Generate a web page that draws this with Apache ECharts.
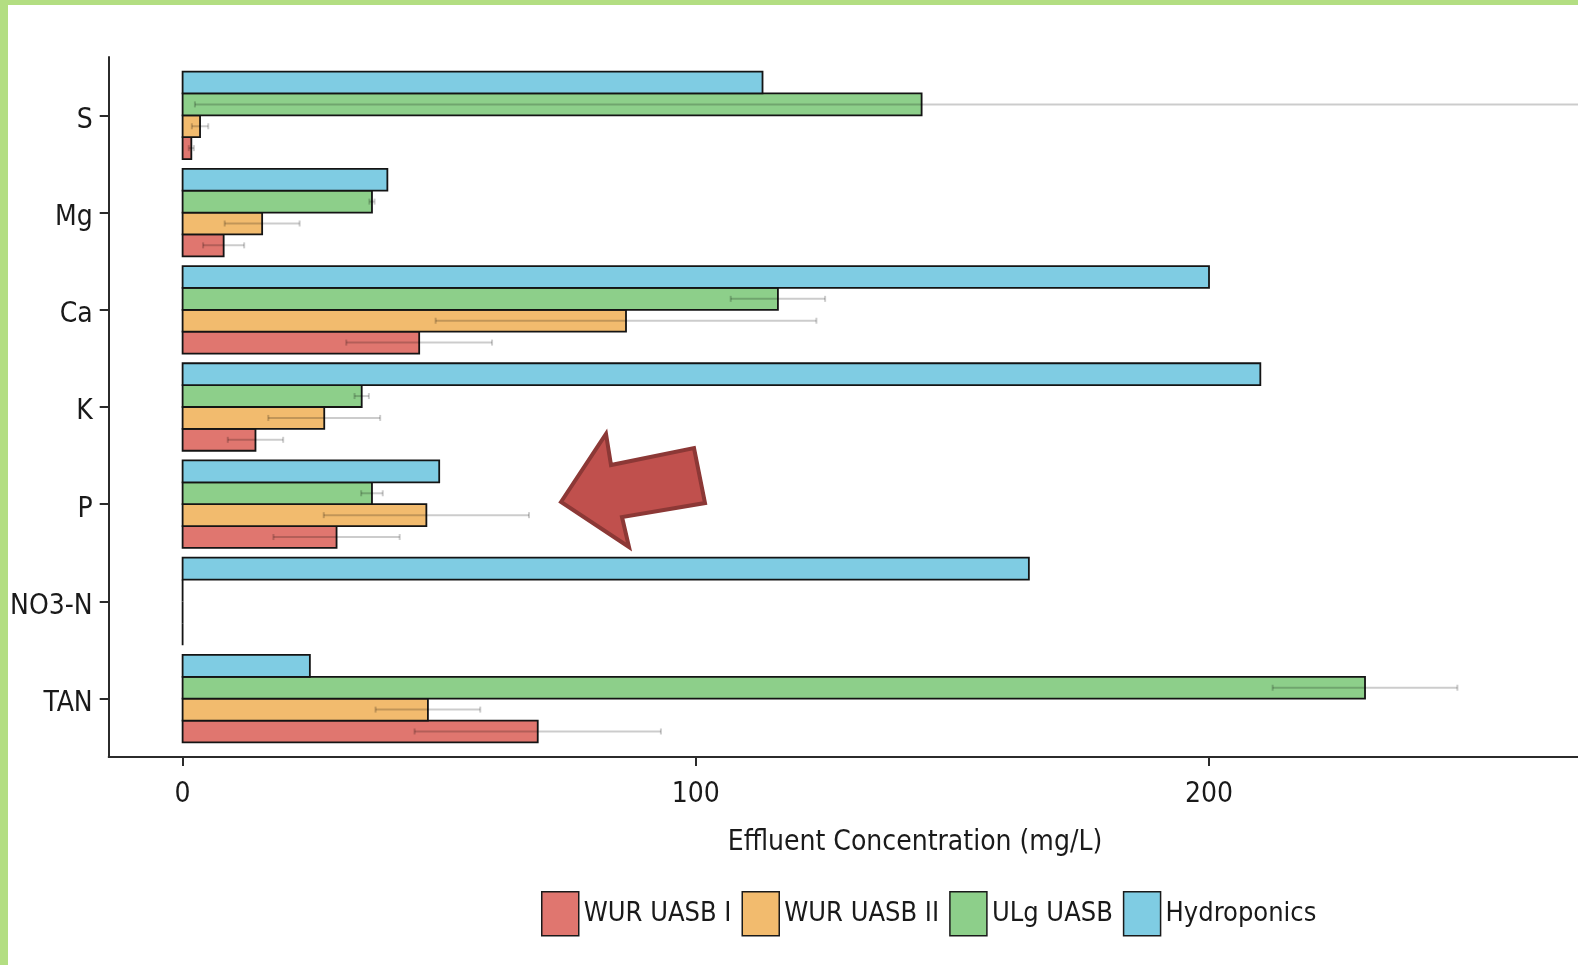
<!DOCTYPE html>
<html>
<head>
<meta charset="utf-8">
<title>Effluent Concentration</title>
<script src="https://cdn.jsdelivr.net/npm/echarts@6/dist/echarts.min.js"></script>
<style>
  html, body { margin: 0; padding: 0; background: #fff; }
  #chart { position: absolute; left: 0; top: 0; width: 1578px; height: 965px; }
  #frame {
    position: absolute; left: 0; top: 0; width: 1578px; height: 965px;
    box-sizing: border-box; border-left: 8px solid #b3de82; border-top: 5px solid #b3de82;
    pointer-events: none;
  }
</style>
</head>
<body>
<div id="chart"></div>
<div id="frame"></div>
<script>
// categories bottom -> top
const categories = ['TAN', 'NO3-N', 'P', 'K', 'Ca', 'Mg', 'S'];
const seriesNames = ['WUR UASB I', 'WUR UASB II', 'ULg UASB', 'Hydroponics'];

// mean effluent concentration (mg/L) and standard deviation
const wurUasb1 = [69.2, 0, 30.0, 14.2, 46.1, 8.0, 1.7];
const wurUasb1Sd = [24.0, 0, 12.3, 5.4, 14.2, 4.0, 0.5];
const wurUasb2 = [47.8, 0, 47.5, 27.6, 86.4, 15.5, 3.4];
const wurUasb2Sd = [10.2, 0, 20.0, 10.9, 37.1, 7.3, 1.6];
const ulgUasb = [230.4, 0, 36.9, 34.9, 116.0, 36.9, 144.0];
const ulgUasbSd = [18.0, 0, 2.1, 1.4, 9.2, 0.5, 141.6];
const hydroponics = [24.8, 164.9, 50.0, 210.0, 200.0, 39.9, 113.0];

const xTicks = [0, 100, 200];

const colors = ['#E0766F', '#F2BB6E', '#8DCF8A', '#7FCCE3'];
// no narrow Arial here, condensed DejaVu is the closest match
const FONT = "'DejaVu Sans Condensed', 'Liberation Sans', sans-serif";
const barStep = 0.225; // each bar's thickness in category units (dodge width 0.9 / 4)

const means = [wurUasb1, wurUasb2, ulgUasb, hydroponics];
const sds = [wurUasb1Sd, wurUasb2Sd, ulgUasbSd, null];

const chart = echarts.init(document.getElementById('chart'));

// bar drawn as a rect from 0 to value, offset inside the category group
function barRenderer(k) {
  return function (params, api) {
    const cat = api.value(0);
    const val = api.value(1);
    const yc = cat + (k - 1.5) * barStep;
    const p0 = api.coord([0, yc + barStep / 2]);
    const p1 = api.coord([val, yc - barStep / 2]);
    return {
      type: 'rect',
      shape: { x: p0[0], y: p0[1], width: p1[0] - p0[0], height: p1[1] - p0[1] },
      style: { fill: colors[k], stroke: '#141414', lineWidth: 1.8 }
    };
  };
}

const barSeries = seriesNames.map((name, k) => ({
  name: name,
  type: 'custom',
  renderItem: barRenderer(k),
  itemStyle: { color: colors[k] },
  encode: { x: 1, y: 0 },
  data: categories.map((c, i) => [i, means[k][i]]),
  z: 2
}));

// error bars (mean +- sd)
const errData = [];
sds.forEach((sd, k) => {
  if (!sd) return;
  categories.forEach((c, i) => {
    if (sd[i] > 0) errData.push([i, k, means[k][i], sd[i]]);
  });
});

const errSeries = {
  type: 'custom',
  name: 'error',
  clip: true,
  z: 3,
  silent: true,
  encode: { x: 2, y: 0 },
  data: errData,
  renderItem: function (params, api) {
    const cat = api.value(0);
    const k = api.value(1);
    const m = api.value(2);
    const sd = api.value(3);
    const yc = cat + (k - 1.5) * barStep;
    const a = api.coord([m - sd, yc]);
    const b = api.coord([m + sd, yc]);
    const st = { stroke: 'rgba(0,0,0,0.2)', lineWidth: 2 };
    return {
      type: 'group',
      children: [
        { type: 'line', shape: { x1: a[0], y1: a[1], x2: b[0], y2: b[1] }, style: st },
        { type: 'line', shape: { x1: a[0], y1: a[1] - 3, x2: a[0], y2: a[1] + 3 }, style: st },
        { type: 'line', shape: { x1: b[0], y1: b[1] - 3, x2: b[0], y2: b[1] + 3 }, style: st }
      ]
    };
  }
};

const axisLine = { show: true, onZero: false, lineStyle: { color: '#2b2b2b', width: 2 } };

const option = {
  animation: false,
  backgroundColor: 'transparent',
  textStyle: { fontFamily: FONT },
  grid: { left: 108.7, right: 0, top: 57, bottom: 208, containLabel: false },
  xAxis: {
    type: 'value',
    min: -14.4,
    max: 271.9,
    axisLine: axisLine,
    axisTick: { show: true, length: 9, customValues: xTicks, lineStyle: { color: '#2b2b2b', width: 2 } },
    axisLabel: {
      customValues: xTicks,
      margin: 16,
      formatter: v => '{t|' + v + '}',
      rich: { t: { fontSize: 28, color: '#1a1a1a', fontFamily: FONT, padding: [8, 0, 0, 0] } }
    },
    splitLine: { show: false }
  },
  yAxis: {
    type: 'value',
    min: -0.6,
    max: 6.6,
    axisLine: axisLine,
    axisTick: {
      show: true, length: 9, customValues: categories.map((c, i) => i),
      lineStyle: { color: '#2b2b2b', width: 2 }
    },
    axisLabel: {
      customValues: categories.map((c, i) => i),
      formatter: v => '{t|' + categories[Math.round(v)] + '}',
      margin: 16,
      rich: { t: { fontSize: 28, color: '#1a1a1a', fontFamily: FONT, padding: [10, 0, 0, 0] } }
    },
    splitLine: { show: false }
  },
  legend: {
    data: seriesNames,
    left: 536,
    top: 886,
    icon: 'rect',
    itemWidth: 37,
    itemHeight: 44,
    itemGap: 10,
    itemStyle: { borderColor: '#1a1a1a', borderWidth: 1.5 },
    textStyle: { fontSize: 27, color: '#1a1a1a', fontFamily: FONT, padding: [0, 0, 0, 0] },
    selectedMode: false
  },
  graphic: [
    {
      type: 'text',
      x: 915, y: 843,
      style: {
        text: 'Effluent Concentration (mg/L)',
        font: '28px ' + FONT,
        fill: '#1a1a1a',
        textAlign: 'center',
        textVerticalAlign: 'middle'
      }
    },
    {
      // annotation arrow
      type: 'polygon',
      z: 10,
      shape: {
        points: [[561, 502], [606, 434], [611, 465], [694, 448], [705, 503], [622, 517], [629, 547]]
      },
      style: { fill: '#C0504D', stroke: '#8C3836', lineWidth: 4, lineJoin: 'miter' }
    }
  ],
  series: barSeries.concat([errSeries])
};

chart.setOption(option);
</script>
</body>
</html>
